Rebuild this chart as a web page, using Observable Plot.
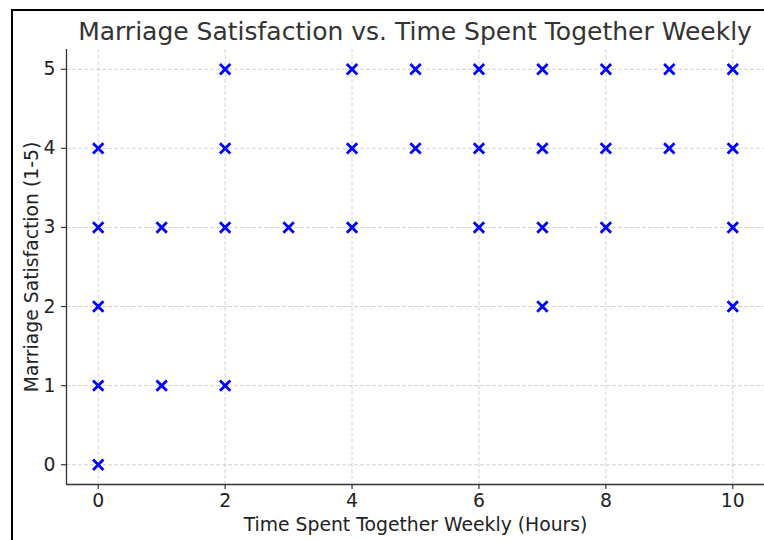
<!DOCTYPE html>
<html>
<head>
<meta charset="utf-8">
<script src="https://cdn.jsdelivr.net/npm/d3@7"></script>
<script src="https://cdn.jsdelivr.net/npm/@observablehq/plot@0.6"></script>
<style>
  html, body { margin: 0; padding: 0; background: #fff; }
  #frame { position: absolute; left: 11px; top: 9px; width: 760px; height: 540px;
           border-left: 2px solid #000; border-top: 2px solid #000; }
  #title { position: absolute; left: 66px; width: 698px; top: 17px; text-align: center;
           font-family: "DejaVu Sans", sans-serif; font-size: 25px; line-height: 30px; color: #333; }
  #chart { position: absolute; left: 0; top: 49px; }
</style>
</head>
<body>
<div id="frame"></div>
<div id="title">Marriage Satisfaction vs. Time Spent Together Weekly</div>
<div id="chart"></div>
<script>
const hours        = [0,0,0,0,0, 1,1, 2,2,2,2, 3, 4,4,4, 5,5, 6,6,6, 7,7,7,7, 8,8,8, 9,9, 10,10,10,10];
const satisfaction = [4,3,2,1,0, 3,1, 5,4,3,1, 3, 5,4,3, 5,4, 5,4,3, 5,4,3,2, 5,4,3, 5,4, 5,4,3,2];
const xTicks = [0,2,4,6,8,10];
const yTicks = [0,1,2,3,4,5];

const data = hours.map((h, i) => ({h, s: satisfaction[i]}));

const chart = Plot.plot({
  width: 764,
  height: 491,
  marginLeft: 66,
  marginRight: 0,
  marginTop: 0,
  marginBottom: 56,
  style: {fontFamily: "DejaVu Sans, sans-serif", fontSize: "18.8px", color: "#222", background: "transparent"},
  x: {domain: [-0.5, 10.5]},
  y: {domain: [-0.25, 5.25]},
  marks: [
    Plot.gridX(xTicks, {stroke: "#b0b0b0", strokeOpacity: 0.7, strokeDasharray: "4,2", strokeWidth: 0.8}),
    Plot.gridY(yTicks, {stroke: "#b0b0b0", strokeOpacity: 0.7, strokeDasharray: "4,2", strokeWidth: 0.8}),
    Plot.axisX(xTicks, {tickSize: 5, tickPadding: 4, stroke: "#333", strokeWidth: 1.2, fontSize: 18.8, fill: "#222",
      tickFormat: "d",
      label: "Time Spent Together Weekly (Hours)", labelAnchor: "center", labelArrow: "none", labelOffset: 46}),
    Plot.axisY(yTicks, {tickSize: 5, tickPadding: 6, stroke: "#333", strokeWidth: 1.2, fontSize: 18.8, fill: "#222",
      tickFormat: "d",
      label: "Marriage Satisfaction (1-5)", labelAnchor: "center", labelArrow: "none", labelOffset: 42}),
    Plot.ruleX([-0.5], {stroke: "#333", strokeWidth: 1.3}),
    Plot.ruleY([-0.25], {stroke: "#333", strokeWidth: 1.3}),
    Plot.dot(data, {x: "h", y: "s", symbol: "times", r: 4.8, stroke: "blue", strokeWidth: 2.8})
  ]
});
document.getElementById("chart").appendChild(chart);
</script>
</body>
</html>
